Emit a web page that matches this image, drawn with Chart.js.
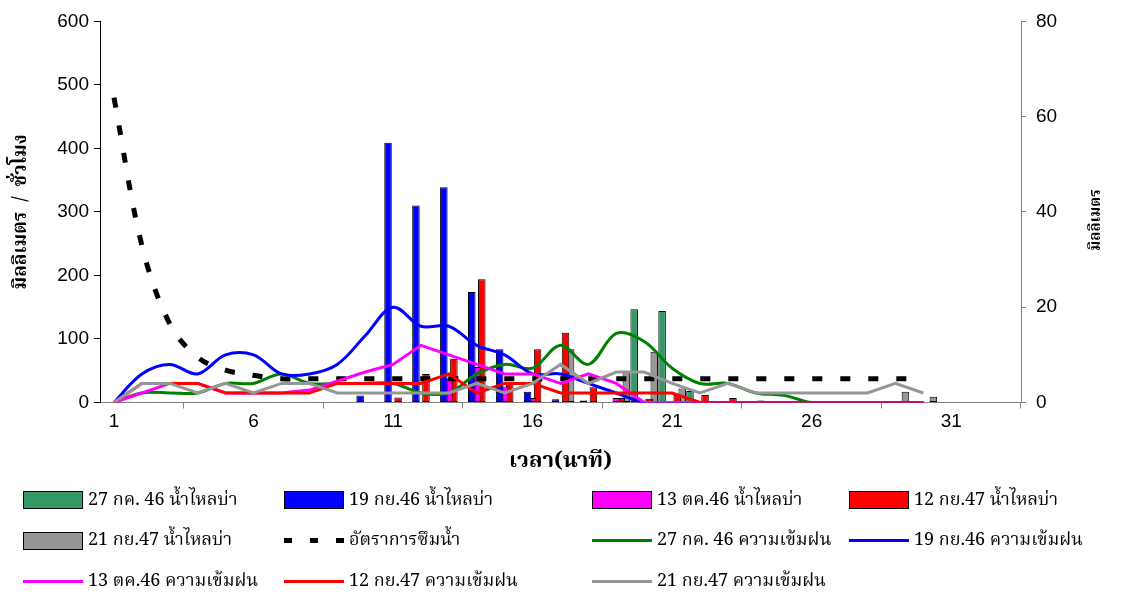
<!DOCTYPE html>
<html lang="th">
<head>
<meta charset="utf-8">
<title>น้ำไหลบ่า ความเข้มฝน และอัตราการซึมน้ำ</title>
<script src="https://cdn.jsdelivr.net/npm/chart.js@4.4.1/dist/chart.umd.min.js"></script>
<style>
  html, body { margin: 0; padding: 0; background: #fff; }
  #wrap { position: relative; width: 1136px; height: 601px; overflow: hidden; }
  #c { position: absolute; left: 0; top: 0; }
  #legend {
    position: absolute; left: 23px; top: 480px;
    display: grid;
    grid-template-columns: 261px 308px 257px 260px;
    grid-auto-rows: 40.5px;
    font-family: "Noto Serif Thai", "Noto Sans Thai", "DejaVu Serif", "Liberation Serif", serif;
    font-size: 18px; color: #000;
  }
  .item { display: flex; align-items: center; white-space: nowrap; }
  .sw { width: 60px; height: 18px; margin-right: 5px; flex: none; position: relative; box-sizing: border-box; }
  .sw.bar { border: 1.5px solid #000; }
  .sw.line::after { content: ""; position: absolute; left: 0; right: 0; top: 7.5px; height: 3px; background: var(--c); }
  .sw.dash { background: linear-gradient(90deg, #000 0 8px, transparent 8px 26px, #000 26px 34px, transparent 34px 52px, #000 52px 60px);
             background-size: 60px 5px; background-repeat: no-repeat; background-position: 0 6.5px; }
</style>
</head>
<body>
<div id="wrap">
  <canvas id="c" width="1136" height="601"></canvas>
  <div id="legend"></div>
</div>
<script>
// นาทีที่ 1 - 33
const minutes = ['1','2','3','4','5','6','7','8','9','10','11','12','13','14','15','16','17',
                 '18','19','20','21','22','23','24','25','26','27','28','29','30','31','32','33'];

const leftTicks  = [0, 100, 200, 300, 400, 500, 600];
const rightTicks = [0, 20, 40, 60, 80];

const xTitle     = 'เวลา(นาที)';
const leftTitle  = 'มิลลิเมตร  /  ชั่วโมง';
const rightTitle = 'มิลลิเมตร';

// น้ำไหลบ่า (แท่ง, แกนซ้าย)
const runoff_27Jul46 = [null,null,null,null,null,null,null,null,null,null,null,null,null,null,null,null,null,null,null,147,144,18,null,null,null,null,null,null,null,null,null,null,null];
const runoff_19Sep46 = [null,null,null,null,null,null,null,null,null,11,409,310,339,174,84,17,5,3,null,null,null,null,null,null,null,null,null,null,null,null,null,null,null];
const runoff_13Oct46 = [null,null,null,null,null,null,null,null,null,null,null,null,37,56,25,7,null,null,7,3,null,null,null,null,null,null,null,null,null,null,null,null,null];
const runoff_12Sep47 = [null,null,null,null,null,null,null,null,null,null,8,45,69,194,30,84,110,24,7,6,12,12,7,3,null,null,null,null,null,null,null,null,null];
const runoff_21Sep47 = [null,null,null,null,null,null,null,null,null,null,null,null,null,null,null,null,84,null,48,80,22,null,null,null,null,null,null,null,17,9,null,null,null];

// อัตราการซึมน้ำ (แกนขวา)
const infiltration = [64,33,16.5,9.5,6.8,5.7,5,5,5,5,5,5,5,5,5,5,5,5,5,5,5,5,5,5,5,5,5,5,5,5];

// ความเข้มฝน (แกนขวา)
const rain_27Jul46 = [0,2,2,2,4,4,6,4,4,4,4,2,2,6,8,7.2,12,8,14.5,12.8,7.2,4,4,2,1.5,0,0,0,0,0];
const rain_19Sep46 = [0,6,8,6,10,10,6,6,8,14,20,16,16,12,10,6,6,4,2,0,0,0,0,0,0,0,0,0,0,0];
const rain_13Oct46 = [0,2,4,4,2,2,2,2.6,4.5,6.4,8,12,10,8,6,6,4,6,4,0,0,0,0,0,0,0,0,0,0,0];
const rain_12Sep47 = [0,4,4,4,2,2,2,2,4,4,4,4,6,2,4,4,2,2,2,2,2,0,0,0,0,0,0,0,0,0];
const rain_21Sep47 = [0,4,4,2,4,2,4,4,2,2,2,2,2,4,2,4,8,4,6.4,6.4,4,2,4,2,2,2,2,2,4,2];

const thaiFont = '"Noto Serif Thai", "Noto Sans Thai", "DejaVu Serif", "Liberation Serif", serif';
const numFont  = '"Liberation Sans", Arial, sans-serif';

function barSet(label, data, color) {
  return { type: 'bar', label, data, yAxisID: 'y', backgroundColor: color,
           borderColor: '#000', borderWidth: 1, borderSkipped: false,
           categoryPercentage: 0.9, barPercentage: 1.5, order: 10 };
}
function lineSet(label, data, color, tension, order) {
  return { type: 'line', label, data, yAxisID: 'y1', borderColor: color, backgroundColor: color,
           borderWidth: 3, pointRadius: 0, tension, fill: false, order };
}

const datasets = [
  barSet('27 กค. 46 น้ำไหลบ่า', runoff_27Jul46, '#339966'),
  barSet('19 กย.46 น้ำไหลบ่า', runoff_19Sep46, '#0000FF'),
  barSet('13 ตค.46 น้ำไหลบ่า', runoff_13Oct46, '#FF00FF'),
  barSet('12 กย.47 น้ำไหลบ่า', runoff_12Sep47, '#FF0000'),
  barSet('21 กย.47 น้ำไหลบ่า', runoff_21Sep47, '#969696'),
  { type: 'line', label: 'อัตราการซึมน้ำ', data: infiltration, yAxisID: 'y1',
    borderColor: '#000', borderWidth: 5, borderDash: [10, 18], pointRadius: 0,
    tension: 0.35, fill: false, order: 5 },
  lineSet('27 กค. 46 ความเข้มฝน', rain_27Jul46, '#008000', 0.35, 4),
  lineSet('19 กย.46 ความเข้มฝน', rain_19Sep46, '#0000FF', 0.35, 3),
  lineSet('13 ตค.46 ความเข้มฝน', rain_13Oct46, '#FF00FF', 0, 2),
  lineSet('12 กย.47 ความเข้มฝน', rain_12Sep47, '#FF0000', 0, 1),
  lineSet('21 กย.47 ความเข้มฝน', rain_21Sep47, '#969696', 0, 0)
];

// ชื่อแกนขวา หมุนอ่านจากล่างขึ้นบน
const rightTitlePlugin = {
  id: 'rightTitle',
  afterDraw(chart) {
    const { ctx, chartArea } = chart;
    const s = chart.scales.y1;
    ctx.save();
    ctx.font = 'bold 15px ' + thaiFont;
    ctx.fillStyle = '#000';
    ctx.textAlign = 'center';
    ctx.textBaseline = 'middle';
    ctx.translate(s.right - 38, (chartArea.top + chartArea.bottom) / 2 + 8);
    ctx.rotate(-Math.PI / 2);
    ctx.fillText(rightTitle, 0, 0);
    ctx.restore();
  }
};

new Chart(document.getElementById('c'), {
  data: { labels: minutes, datasets },
  options: {
    responsive: false, animation: false, devicePixelRatio: 1,
    layout: { padding: { left: 0, right: 0, top: 21, bottom: 124 } },
    plugins: { legend: { display: false }, tooltip: { enabled: false } },
    scales: {
      x: {
        type: 'category', offset: true,
        grid: { offset: true, drawOnChartArea: false, drawTicks: true, tickLength: 6, color: '#808080' },
        border: { display: true, color: '#808080', width: 1 },
        ticks: { autoSkip: false, maxRotation: 0, padding: 2, color: '#000',
                 font: { family: numFont, size: 19 },
                 callback(v, i) { return i % 5 === 0 ? minutes[i] : null; } },
        title: { display: true, text: xTitle, color: '#000', padding: { top: 0, bottom: 0 },
                 font: { family: thaiFont, size: 22, weight: 'bold' } },
        afterFit(s) { s.height = 74.5; }
      },
      y: {
        position: 'left', min: 0, max: 600,
        afterBuildTicks(s) { s.ticks = leftTicks.map(v => ({ value: v })); },
        grid: { drawOnChartArea: false, drawTicks: true, tickLength: 6, color: '#000' },
        border: { display: true, color: '#000', width: 1 },
        ticks: { padding: 5, color: '#000', font: { family: numFont, size: 19 } },
        title: { display: true, text: leftTitle, color: '#000', padding: { top: 11, bottom: 0 },
                 font: { family: thaiFont, size: 19, weight: 'bold' } },
        afterFit(s) { s.width = 100; }
      },
      y1: {
        position: 'right', min: 0, max: 80,
        afterBuildTicks(s) { s.ticks = rightTicks.map(v => ({ value: v })); },
        grid: { drawOnChartArea: false, drawTicks: true, tickLength: 5, color: '#808080' },
        border: { display: true, color: '#808080', width: 1 },
        ticks: { padding: 10, color: '#000', font: { family: numFont, size: 19 } },
        afterFit(s) { s.width = 115; }
      }
    }
  },
  plugins: [rightTitlePlugin]
});

// คำอธิบายสัญลักษณ์ 4 คอลัมน์
const legendEl = document.getElementById('legend');
datasets.forEach(ds => {
  const item = document.createElement('div');
  item.className = 'item';
  const sw = document.createElement('span');
  if (ds.type === 'bar') {
    sw.className = 'sw bar';
    sw.style.background = ds.backgroundColor;
  } else if (ds.borderDash) {
    sw.className = 'sw dash';
  } else {
    sw.className = 'sw line';
    sw.style.setProperty('--c', ds.borderColor);
  }
  const tx = document.createElement('span');
  tx.textContent = ds.label;
  item.appendChild(sw);
  item.appendChild(tx);
  legendEl.appendChild(item);
});
</script>
</body>
</html>
